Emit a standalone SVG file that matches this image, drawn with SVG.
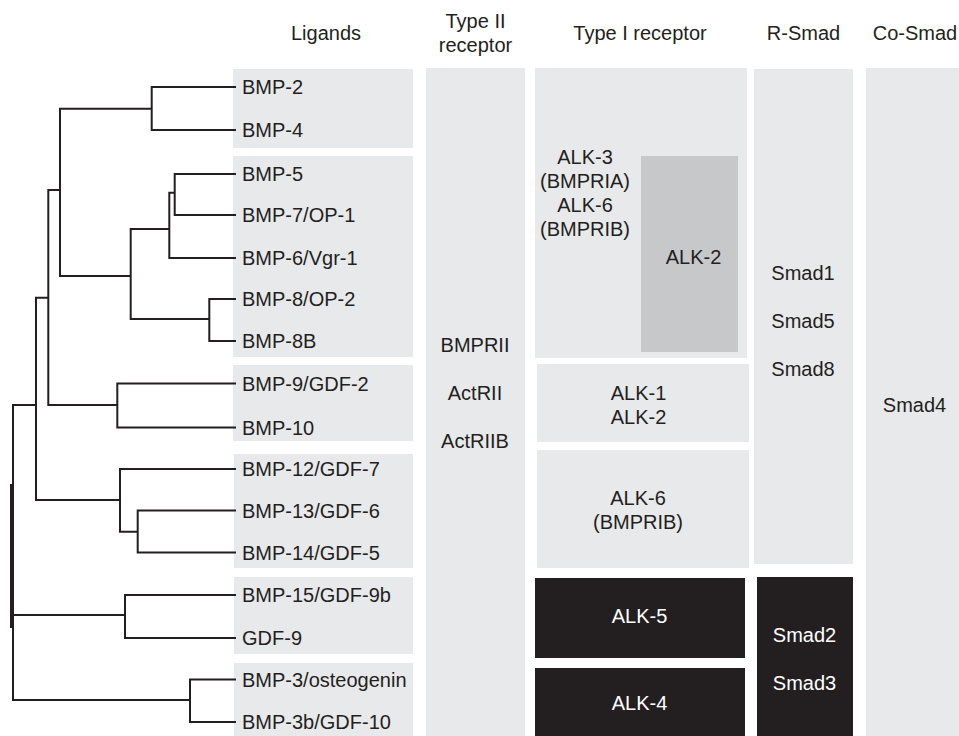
<svg xmlns="http://www.w3.org/2000/svg" width="959" height="736" viewBox="0 0 959 736">
<style>
.bx{fill:#e8e9eb}
.mid{fill:#c7c8ca}
.blk{fill:#231f20}
text{font-family:"Liberation Sans",Arial,sans-serif;font-size:20px;fill:#231f20}
.c{text-anchor:middle}
.w{fill:#ffffff}
.tree{fill:none;stroke:#231f20;stroke-width:2;stroke-linejoin:miter;stroke-linecap:butt}
</style>
<rect width="959" height="736" fill="#ffffff"/>
<g id="headers">
<text class="c" x="326" y="40">Ligands</text>
<text class="c" x="475.5" y="28">Type II</text>
<text class="c" x="475.5" y="52">receptor</text>
<text class="c" x="640" y="40">Type I receptor</text>
<text class="c" x="803.5" y="40">R-Smad</text>
<text class="c" x="915" y="40">Co-Smad</text>
</g>
<g id="ligands-1">
<rect class="bx" x="233" y="69" width="180" height="79"/>
<text x="242" y="94">BMP-2</text>
<text x="242" y="137">BMP-4</text>
</g>
<g id="ligands-2">
<rect class="bx" x="233" y="156" width="180" height="201"/>
<text x="242" y="181">BMP-5</text>
<text x="242" y="222">BMP-7/OP-1</text>
<text x="242" y="265">BMP-6/Vgr-1</text>
<text x="242" y="306">BMP-8/OP-2</text>
<text x="242" y="348">BMP-8B</text>
</g>
<g id="ligands-3">
<rect class="bx" x="233" y="365" width="180" height="76"/>
<text x="242" y="390.5">BMP-9/GDF-2</text>
<text x="242" y="434.5">BMP-10</text>
</g>
<g id="ligands-4">
<rect class="bx" x="234" y="454" width="179" height="114"/>
<text x="242" y="476">BMP-12/GDF-7</text>
<text x="242" y="517.5">BMP-13/GDF-6</text>
<text x="242" y="559.5">BMP-14/GDF-5</text>
</g>
<g id="ligands-5">
<rect class="bx" x="234" y="577" width="179" height="77"/>
<text x="242" y="602">BMP-15/GDF-9b</text>
<text x="242" y="645">GDF-9</text>
</g>
<g id="ligands-6">
<rect class="bx" x="234" y="663" width="179" height="73"/>
<text x="242" y="686.5">BMP-3/osteogenin</text>
<text x="242" y="729">BMP-3b/GDF-10</text>
</g>
<g id="type2">
<rect class="bx" x="426" y="68" width="99" height="668"/>
<text class="c" x="475" y="352">BMPRII</text>
<text class="c" x="475" y="400">ActRII</text>
<text class="c" x="475" y="447.5">ActRIIB</text>
</g>
<g id="type1-bmpr">
<rect class="bx" x="535" y="68" width="212" height="290"/>
<text class="c" x="585" y="163.5">ALK-3</text>
<text class="c" x="585" y="187.5">(BMPRIA)</text>
<text class="c" x="585" y="211.5">ALK-6</text>
<text class="c" x="585" y="235.5">(BMPRIB)</text>
</g>
<g id="type1-alk2">
<rect class="mid" x="641" y="156" width="97" height="196"/>
<text class="c" x="693.5" y="263.5">ALK-2</text>
</g>
<g id="type1-alk1">
<rect class="bx" x="537" y="364" width="212" height="78"/>
<text class="c" x="638.5" y="399.5">ALK-1</text>
<text class="c" x="638.5" y="423.5">ALK-2</text>
</g>
<g id="type1-alk6">
<rect class="bx" x="537" y="450" width="212" height="118"/>
<text class="c" x="638" y="505">ALK-6</text>
<text class="c" x="638" y="529">(BMPRIB)</text>
</g>
<g id="type1-alk5">
<rect class="blk" x="535" y="578" width="210" height="80"/>
<text class="c w" x="639.5" y="622.5">ALK-5</text>
</g>
<g id="type1-alk4">
<rect class="blk" x="535" y="668" width="210" height="68"/>
<text class="c w" x="639.5" y="710">ALK-4</text>
</g>
<g id="rsmad-158">
<rect class="bx" x="754" y="69" width="99" height="495"/>
<text class="c" x="803" y="280">Smad1</text>
<text class="c" x="803" y="328">Smad5</text>
<text class="c" x="803" y="375.5">Smad8</text>
</g>
<g id="rsmad-23">
<rect class="blk" x="757" y="577" width="96" height="159"/>
<text class="c w" x="804.5" y="641.5">Smad2</text>
<text class="c w" x="804.5" y="690">Smad3</text>
</g>
<g id="cosmad">
<rect class="bx" x="866" y="68" width="93" height="668"/>
<text class="c" x="914.5" y="412">Smad4</text>
</g>
<g id="connectors" class="tree">
<path d="M236 87H151.7V130H236"/>
<path d="M236 174H174.7V215H236"/>
<path d="M174.7 192.7H169.3V258H236"/>
<path d="M236 299H209.3V341H236"/>
<path d="M169.3 229H130.7V319H209.3"/>
<path d="M151.7 108.7H60V276H130.7"/>
<path d="M236 383.5H117.3V427.5H236"/>
<path d="M60 190H48.3V405H117.3"/>
<path d="M236 510.5H137.7V552.5H236"/>
<path d="M236 469H120V531.7H137.7"/>
<path d="M48.3 297.7H36V500H120"/>
<path d="M236 595H125V638H236"/>
<path d="M236 679.5H190V722H236"/>
<path d="M36 405H13V700H190"/>
<path d="M13 615H125"/>
<path d="M11.5 484V628" stroke-width="3"/>
</g>
</svg>
